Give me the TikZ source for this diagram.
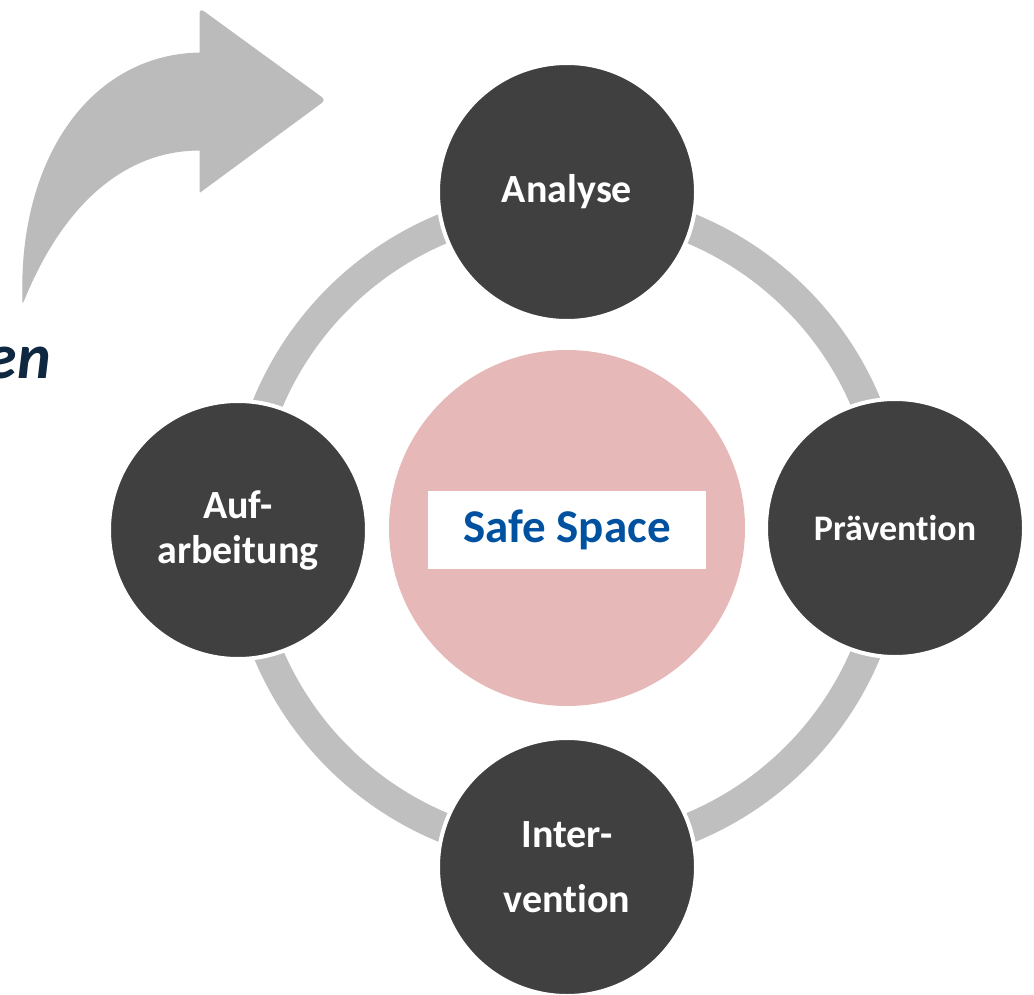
\documentclass[tikz,border=0pt]{standalone}
\usepackage{fontspec}
\setmainfont{Carlito}[Ligatures=NoCommon]
\definecolor{stagefill}{RGB}{64,64,64}
\definecolor{ringgray}{RGB}{191,191,191}
\definecolor{arrowgray}{RGB}{187,187,187}
\definecolor{corepink}{RGB}{230,184,183}
\definecolor{coreblue}{RGB}{0,82,160}
\definecolor{navy}{RGB}{14,40,65}
\tikzset{
  stage/.style={circle, fill=stagefill, draw=white, line width=4pt,
    minimum size=258pt, inner sep=0pt, text=white, align=center,
    font=\bfseries\fontsize{40}{45}\selectfont},
  ring/.style={draw=ringgray, line width=30pt},
  core/.style={circle, fill=corepink, minimum size=356pt, inner sep=0pt},
  corelabel/.style={fill=white, minimum width=278pt, minimum height=78pt,
    inner sep=0pt, text=coreblue, font=\bfseries\fontsize{47}{56}\selectfont},
  bigarrow/.style={fill=arrowgray, draw=arrowgray, line width=1pt, line join=round},
}
\begin{document}
\begin{tikzpicture}[x=1pt,y=-1pt]
  \useasboundingbox (0,0) rectangle (1034,995);
  % curved arrow, top left
  \fill[bigarrow] (200,53)
     .. controls (90,55) and (18,160) .. (23,302)
     .. controls (60,210) and (120,150) .. (200,150)
     -- (200,192) [rounded corners=4pt] -- (325,100) -- (200,9) [sharp corners] -- cycle;
  % partly visible caption at the left edge
  \node[anchor=base east, inner sep=0pt, text=navy,
        font=\bfseries\itshape\fontsize{64}{70}\selectfont] (cap) at (51,378) {en};
  % cycle ring
  \coordinate (mid) at (567,528);
  \draw[ring] (mid) circle[radius=324pt];
  % centre
  \node[core] (coreC) at (mid) {};
  \node[corelabel] (safe) at (567,530) {Safe Space};
  % four stages
  \node[stage] (ana) at (567,192) {Analyse};
  \node[stage, font=\bfseries\fontsize{36}{44}\selectfont] (pra) at (895,528) {Prävention};
  \node[stage] (int) at (567,867) {Inter-\\[20pt]vention};
  \node[stage] (auf) at (238,530) {Auf-\\arbeitung};
\end{tikzpicture}
\end{document}
